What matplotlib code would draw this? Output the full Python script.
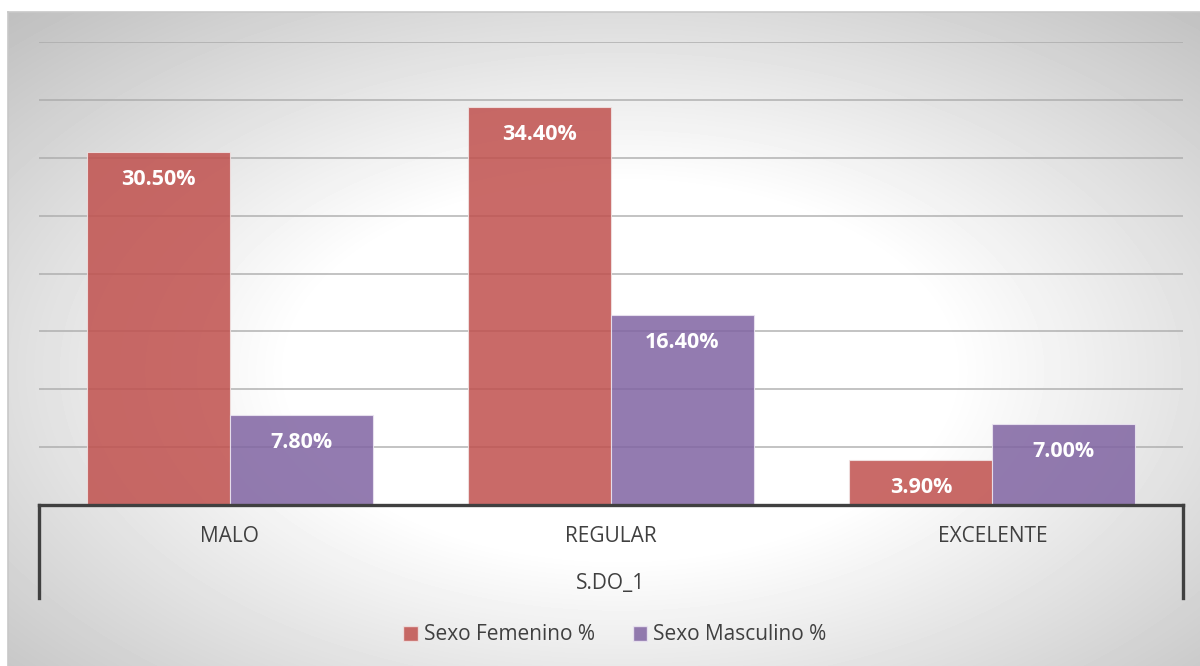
import numpy as np
import matplotlib
matplotlib.use('Agg')
import matplotlib.pyplot as plt
from matplotlib.transforms import blended_transform_factory
from matplotlib.lines import Line2D
from matplotlib.patches import Patch

# DATOS
categorias = ['MALO', 'REGULAR', 'EXCELENTE']
femenino = [30.5, 34.4, 3.9]
masculino = [7.8, 16.4, 7.0]
series = ['Sexo Femenino %', 'Sexo Masculino %']
titulo_eje = 'S.DO_1'

plt.rcParams['font.family'] = ['Open Sans', 'DejaVu Sans']

ROJO = '#C0504D'
MORADO = '#8064A2'

W, H = 1200, 666
fig = plt.figure(figsize=(W / 100, H / 100), dpi=100)
fig.patch.set_facecolor('white')

# fondo con degradado radial (gris en bordes, blanco al centro)
bg = fig.add_axes([8 / W, 0, 1 - 8 / W, (H - 12) / H])
yy, xx = np.mgrid[12:H, 8:W]
r = np.sqrt(((xx - 620) / 600.0) ** 2 + ((yy - 370) / 340.0) ** 2)
gris = np.clip(255 - 70 * np.clip(r - 0.55, 0, None), 0, 255) / 255.0
bg.imshow(gris, cmap='gray', vmin=0, vmax=1, aspect='auto', interpolation='bilinear')
bg.set_xticks([])
bg.set_yticks([])
for s in ['right', 'bottom']:
    bg.spines[s].set_visible(False)
for s in ['left', 'top']:
    bg.spines[s].set_color('#c8c8c8')
    bg.spines[s].set_linewidth(1.2)

# eje principal
x0, x1 = 39, 1183
ybase, ytop = 505, 42
ax = fig.add_axes([x0 / W, (H - ybase) / H, (x1 - x0) / W, (ybase - ytop) / H])
ax.patch.set_alpha(0)

x = np.arange(len(categorias))
ancho = 0.375
b1 = ax.bar(x - ancho / 2, femenino, ancho, color=ROJO, alpha=0.85,
            edgecolor='#f0e4e4', linewidth=0.8, zorder=3)
b2 = ax.bar(x + ancho / 2, masculino, ancho, color=MORADO, alpha=0.85,
            edgecolor='#ece6f2', linewidth=0.8, zorder=3)

for barras, vals in [(b1, femenino), (b2, masculino)]:
    for b, v in zip(barras, vals):
        ax.annotate(f'{v:.2f}%', (b.get_x() + b.get_width() / 2, v), xytext=(0, -20),
                    textcoords='offset points', ha='center', va='center',
                    color='white', fontsize=15.5, fontweight='bold', zorder=4)

ax.set_xlim(-0.5, 2.5)
ax.set_ylim(0, 40)
ax.set_yticks(np.arange(5, 41, 5))
ax.yaxis.grid(True, color='#a8a8a8', linewidth=1.3, alpha=0.75, zorder=0)
ax.set_axisbelow(True)
ax.tick_params(left=False, labelleft=False, bottom=False, labelbottom=False)
for s in ['left', 'right', 'top']:
    ax.spines[s].set_visible(False)
ax.spines['bottom'].set_color('#404040')
ax.spines['bottom'].set_linewidth(2.4)
ax.spines['bottom'].set_zorder(5)

# etiquetas de categoria y titulo del eje
tr = blended_transform_factory(ax.transData, fig.transFigure)
for i, c in enumerate(categorias):
    ax.text(i, 1 - 536 / H, c, transform=tr, ha='center', va='center',
            fontsize=15, color='#404040')
ax.text(1, 1 - 583 / H, titulo_eje, transform=tr, ha='center', va='center',
        fontsize=15, color='#404040')
for xv in [-0.5, 2.5]:
    ax.add_line(Line2D([xv, xv], [1 - ybase / H, 1 - 598 / H], transform=tr,
                       color='#404040', linewidth=2.4, clip_on=False))

# leyenda
handles = [Patch(facecolor=ROJO, alpha=0.85, edgecolor='#f0e4e4'),
           Patch(facecolor=MORADO, alpha=0.85, edgecolor='#ece6f2')]
fig.legend(handles, series, loc='center', bbox_to_anchor=(615 / W, 1 - 635 / H),
           ncol=2, frameon=False, fontsize=15, handlelength=0.7, handleheight=0.7,
           handletextpad=0.3, columnspacing=1.8, labelcolor='#404040')

fig.savefig('out.png', dpi=100)
